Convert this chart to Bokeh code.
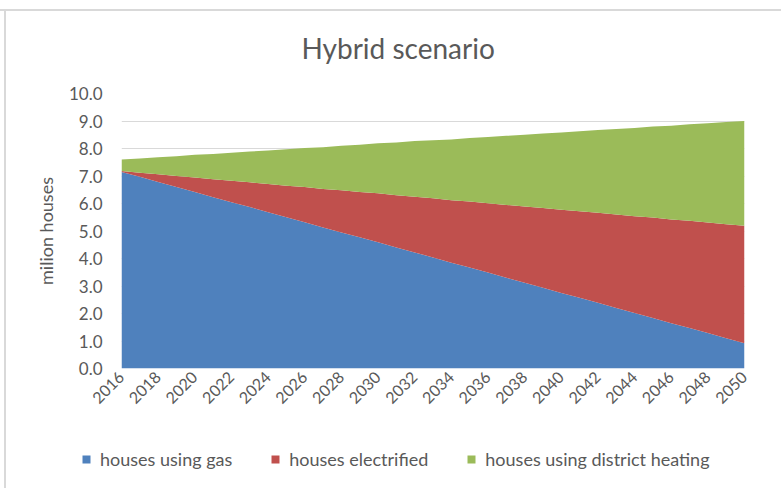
import math
from bokeh.plotting import figure
from bokeh.layouts import column
from bokeh.models import (ColumnDataSource, Legend, LegendItem, FixedTicker,
                          NumeralTickFormatter, Range1d)
from bokeh.embed import file_html
from bokeh.resources import INLINE

title_text = "Hybrid scenario"
y_axis_title = "milion houses"

years = list(range(2016, 2051))
gas = [7.15, 6.97, 6.78, 6.60, 6.42, 6.23, 6.05, 5.87, 5.68, 5.50,
       5.32, 5.13, 4.95, 4.77, 4.59, 4.40, 4.22, 4.04, 3.85, 3.67,
       3.49, 3.30, 3.12, 2.94, 2.75, 2.57, 2.39, 2.20, 2.02, 1.84,
       1.65, 1.47, 1.29, 1.10, 0.92]
electrified = [0.03, 0.15, 0.28, 0.40, 0.53, 0.65, 0.78, 0.90, 1.03, 1.15,
               1.28, 1.40, 1.53, 1.65, 1.78, 1.90, 2.03, 2.15, 2.27, 2.40,
               2.52, 2.65, 2.77, 2.90, 3.02, 3.15, 3.27, 3.40, 3.52, 3.65,
               3.77, 3.90, 4.02, 4.15, 4.27]
district = [0.42, 0.52, 0.62, 0.72, 0.82, 0.92, 1.02, 1.12, 1.22, 1.32,
            1.42, 1.52, 1.62, 1.72, 1.82, 1.92, 2.02, 2.11, 2.21, 2.31,
            2.41, 2.51, 2.61, 2.71, 2.81, 2.91, 3.01, 3.11, 3.21, 3.31,
            3.41, 3.51, 3.61, 3.71, 3.81]

series_names = ["houses using gas", "houses electrified", "houses using district heating"]
colors = ["#4F81BD", "#C0504D", "#9BBB59"]
y_ticks = [0, 1, 2, 3, 4, 5, 6, 7, 8, 9, 10]
x_ticks = list(range(2016, 2051, 2))

FONT = "Lato"
TXT = "#595959"

src = ColumnDataSource(dict(year=years, gas=gas, elec=electrified, dist=district))

p = figure(width=781, height=428, output_backend="svg", toolbar_location=None,
           x_range=Range1d(2016, 2050), y_range=Range1d(0, 10),
           min_border_left=121, min_border_right=37, min_border_top=93,
           min_border_bottom=60)
p.frame_align = False
p.outline_line_color = None
p.background_fill_color = "white"
p.border_fill_alpha = 0

p.title.text = title_text
p.title.align = "left"
p.title.offset = 180
p.title.standoff = 57
p.title.text_font = FONT
p.title.text_font_style = "normal"
p.title.text_font_size = "28px"
p.title.text_color = TXT

rs = p.varea_stack(stackers=["gas", "elec", "dist"], x="year", color=colors, source=src)

p.xgrid.grid_line_color = None
p.ygrid.grid_line_color = "#D9D9D9"
p.ygrid.ticker = FixedTicker(ticks=y_ticks)

p.yaxis.ticker = FixedTicker(ticks=y_ticks)
p.yaxis.formatter = NumeralTickFormatter(format="0.0")
p.yaxis.axis_line_color = None
p.yaxis.major_tick_line_color = None
p.yaxis.minor_tick_line_color = None
p.yaxis.major_tick_out = 0
p.yaxis.major_label_standoff = 19
p.yaxis.major_label_text_font = FONT
p.yaxis.major_label_text_font_size = "17px"
p.yaxis.major_label_text_color = TXT
p.yaxis.axis_label = y_axis_title
p.yaxis.axis_label_text_font = FONT
p.yaxis.axis_label_text_font_style = "normal"
p.yaxis.axis_label_text_font_size = "18px"
p.yaxis.axis_label_text_color = TXT
p.yaxis.axis_label_standoff = 9

p.xaxis.ticker = FixedTicker(ticks=x_ticks)
p.xaxis.axis_line_color = None
p.xaxis.major_tick_line_color = None
p.xaxis.minor_tick_line_color = None
p.xaxis.major_tick_out = 0
p.xaxis.major_label_standoff = 6
p.xaxis.major_label_orientation = math.pi / 4
p.xaxis.major_label_text_font = FONT
p.xaxis.major_label_text_font_size = "16px"
p.xaxis.major_label_text_color = TXT

# legend strip below the chart
leg = figure(width=781, height=60, output_backend="svg", toolbar_location=None,
             x_range=Range1d(0, 1), y_range=Range1d(0, 1),
             min_border_left=0, min_border_right=0, min_border_top=0,
             min_border_bottom=0)
leg.frame_align = False
leg.outline_line_color = None
leg.background_fill_alpha = 0
leg.border_fill_alpha = 0
leg.axis.visible = False
leg.grid.visible = False
# zero-area keys: they only provide the legend swatches
keys = [leg.varea(x=[-1], y1=[-1], y2=[-1], fill_color=c) for c in colors]

items = [LegendItem(label=n, renderers=[r]) for n, r in zip(series_names, keys)]
legend = Legend(items=items, orientation="horizontal", location=(81, 18),
                border_line_color=None, background_fill_alpha=0,
                label_text_font=FONT, label_text_font_size="18px",
                label_text_color=TXT, glyph_width=10, glyph_height=10,
                spacing=38, padding=0, margin=0, label_standoff=9)
leg.add_layout(legend, "center")

layout = column(p, leg, spacing=0, styles={
    "background": ("linear-gradient(#d9d9d9, #d9d9d9) 0px 9px / 100% 2px no-repeat, "
                   "linear-gradient(#d9d9d9, #d9d9d9) 4px 9px / 2px 100% no-repeat, white"),
})

open("out.html", "w").write(file_html(layout, INLINE))
